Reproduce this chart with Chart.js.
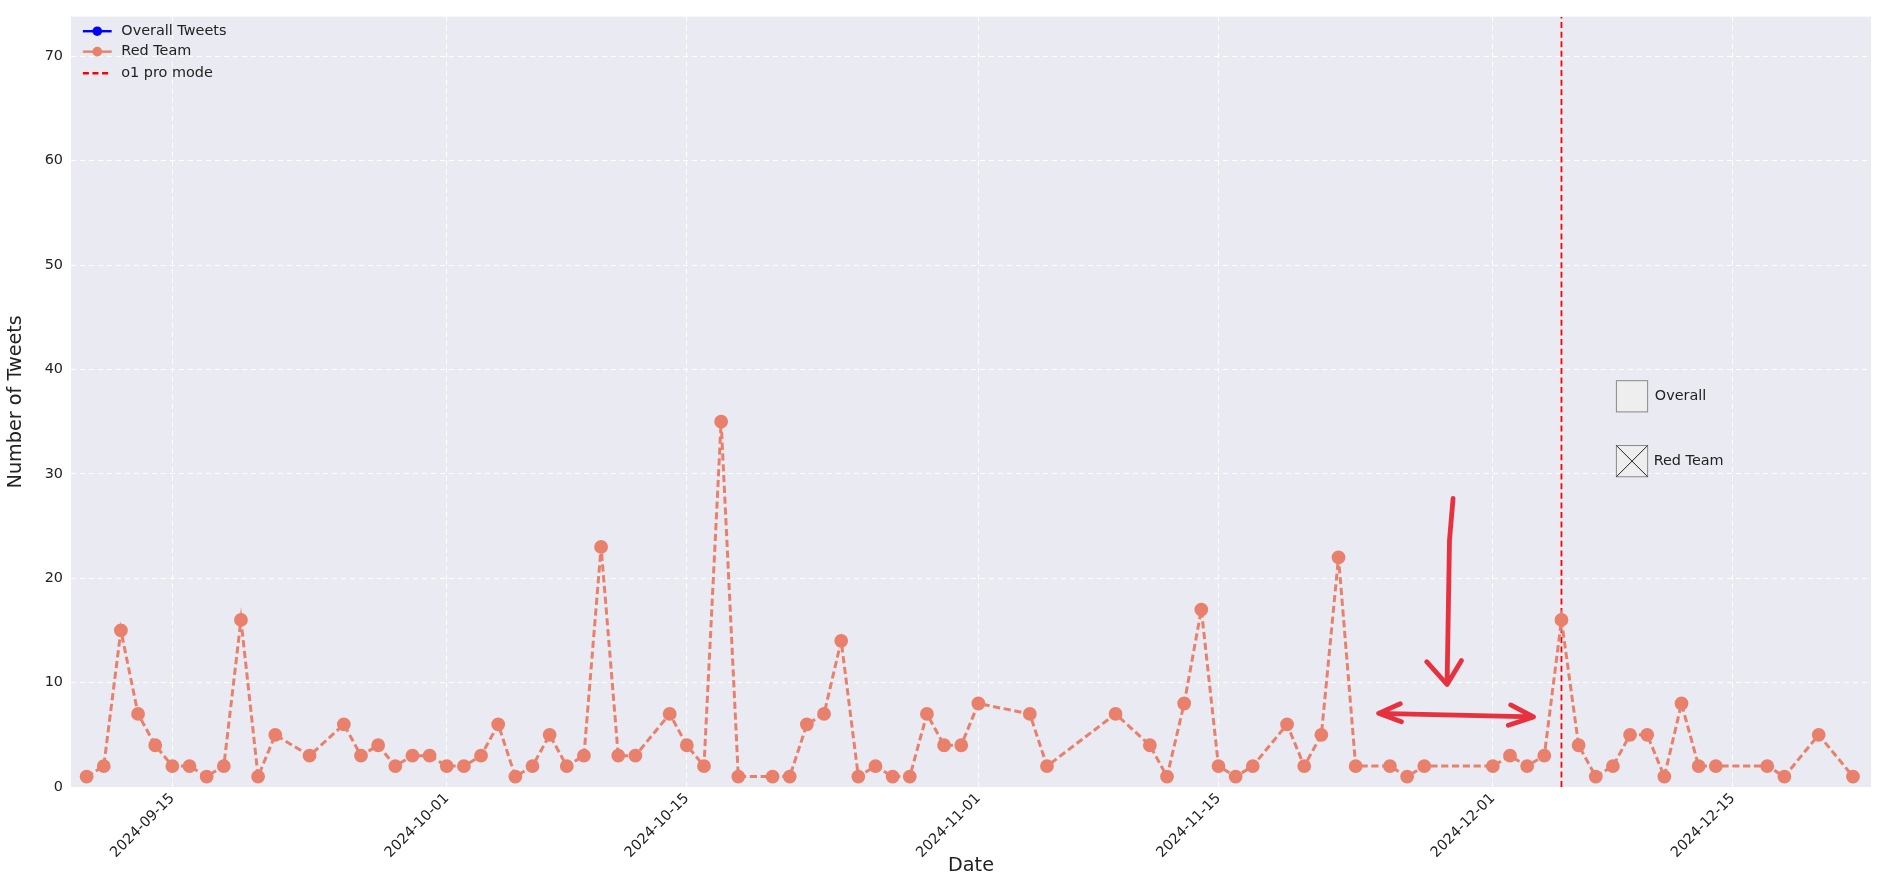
<!DOCTYPE html>
<html>
<head>
<meta charset="utf-8">
<script src="https://cdn.jsdelivr.net/npm/chart.js@4.4.0/dist/chart.umd.min.js"></script>
<style>
  html, body { margin: 0; padding: 0; background: #fff; }
  #wrap { width: 1883px; height: 882px; }
</style>
</head>
<body>
<div id="wrap"><canvas id="c" width="1883" height="882"></canvas></div>
<script>
// --- DATA ---
const startDate = "2024-09-10";
const redDays = [0,1,2,3,4,5,6,7,8,9,10,11,13,15,16,17,18,19,20,21,22,23,24,25,26,27,28,29,30,31,32,34,35,36,37,38,40,41,42,43,44,45,46,47,48,49,50,51,52,55,56,60,62,63,64,65,66,67,68,70,71,72,73,74,76,77,78,82,83,84,85,86,87,88,89,90,91,92,93,94,95,98,99,101,103];
const redValues = [1,2,15,7,4,2,2,1,2,16,1,5,3,6,3,4,2,3,3,2,2,3,6,1,2,5,2,3,23,3,3,7,4,2,35,1,1,1,6,7,14,1,2,1,1,7,4,4,8,7,2,7,4,1,8,17,2,1,2,6,2,5,22,2,2,1,2,2,3,2,3,16,4,1,2,5,5,1,8,2,2,2,1,5,1];
const overallValues = [];
const tickDates = ["2024-09-15","2024-10-01","2024-10-15","2024-11-01","2024-11-15","2024-12-01","2024-12-15"];
const o1ProDay = 86;
const yTicks = [0,10,20,30,40,50,60,70];

const S = 1883 / 1568; // reference scale
const DAY = 86400000;
const t0 = Date.parse(startDate + "T00:00:00Z");
const toDay = s => Math.round((Date.parse(s + "T00:00:00Z") - t0) / DAY);
const fmt = d => new Date(t0 + d * DAY).toISOString().slice(0, 10);
const tickDays = tickDates.map(toDay);

const red = '#e8806c';
const FONT = 'DejaVu Sans, Liberation Sans, sans-serif';

// --- overlay: legend, extra box, hand-drawn arrows ---
const overlay = {
  id: 'overlay',
  beforeDraw(chart) {
    const { ctx, chartArea: a } = chart;
    ctx.save();
    ctx.fillStyle = '#eaeaf2';
    ctx.fillRect(a.left, a.top, a.right - a.left, a.bottom - a.top);
    ctx.restore();
  },
  afterDraw(chart) {
    const ctx = chart.ctx;
    const P = v => v * S;
    ctx.save();
    ctx.font = `${P(12)}px ${FONT}`;
    ctx.textBaseline = 'middle';
    // legend
    const items = [
      { y: 26, color: '#0000ff', dash: [], dot: true, label: 'Overall Tweets' },
      { y: 43, color: red, dash: [], dot: true, label: 'Red Team' },
      { y: 61, color: '#ff0000', dash: [P(5), P(3)], dot: false, label: 'o1 pro mode' }
    ];
    items.forEach(it => {
      ctx.strokeStyle = it.color; ctx.lineWidth = P(2); ctx.setLineDash(it.dash);
      ctx.beginPath(); ctx.moveTo(P(69), P(it.y)); ctx.lineTo(P(93), P(it.y)); ctx.stroke();
      ctx.setLineDash([]);
      if (it.dot) { ctx.fillStyle = it.color; ctx.beginPath(); ctx.arc(P(81), P(it.y), P(4), 0, 2 * Math.PI); ctx.fill(); }
      ctx.fillStyle = '#222'; ctx.fillText(it.label, P(101), P(it.y));
    });
    // second legend box
    ctx.fillStyle = '#eeeeee'; ctx.strokeStyle = '#888'; ctx.lineWidth = 1;
    ctx.fillRect(P(1346), P(317), P(26), P(26)); ctx.strokeRect(P(1346), P(317), P(26), P(26));
    ctx.fillRect(P(1346), P(371), P(26), P(26)); ctx.strokeRect(P(1346), P(371), P(26), P(26));
    ctx.strokeStyle = '#222';
    ctx.beginPath();
    ctx.moveTo(P(1346), P(371)); ctx.lineTo(P(1372), P(397));
    ctx.moveTo(P(1372), P(371)); ctx.lineTo(P(1346), P(397));
    ctx.stroke();
    ctx.fillStyle = '#222';
    ctx.fillText('Overall', P(1378), P(330));
    ctx.fillText('Red Team', P(1377), P(384));
    // arrows
    ctx.strokeStyle = '#e8313f'; ctx.lineWidth = P(4); ctx.lineCap = 'round'; ctx.lineJoin = 'round';
    ctx.beginPath();
    ctx.moveTo(P(1210), P(415)); ctx.lineTo(P(1207), P(450)); ctx.lineTo(P(1205), P(570));
    ctx.moveTo(P(1188), P(551)); ctx.lineTo(P(1205), P(570)); ctx.lineTo(P(1217), P(550));
    ctx.moveTo(P(1148), P(594)); ctx.lineTo(P(1277), P(597));
    ctx.moveTo(P(1166), P(586)); ctx.lineTo(P(1148), P(594)); ctx.lineTo(P(1167), P(601));
    ctx.moveTo(P(1258), P(587)); ctx.lineTo(P(1277), P(597)); ctx.lineTo(P(1256), P(604));
    ctx.stroke();
    ctx.restore();
  }
};

new Chart(document.getElementById('c'), {
  type: 'line',
  data: {
    datasets: [
      { label: 'Overall Tweets', data: overallValues, borderColor: '#0000ff', backgroundColor: '#0000ff' },
      {
        label: 'Red Team',
        data: redDays.map((d, i) => ({ x: d, y: redValues[i] })),
        borderColor: red, backgroundColor: red, borderWidth: 2.5 * S,
        borderDash: [6 * S, 3 * S], pointRadius: 4.5 * S, pointHoverRadius: 4.5 * S, tension: 0
      },
      {
        label: 'o1 pro mode',
        data: [{ x: o1ProDay, y: 0 }, { x: o1ProDay, y: 73.8 }],
        borderColor: '#ff0000', borderWidth: 1.5 * S, borderDash: [5 * S, 3 * S], pointRadius: 0
      }
    ]
  },
  options: {
    responsive: false, animation: false,
    layout: { padding: { top: 13, right: 12, left: 0, bottom: 0 } },
    plugins: { legend: { display: false }, tooltip: { enabled: false } },
    scales: {
      x: {
        type: 'linear', min: -0.91, max: 104.05,
        afterBuildTicks: s => { s.ticks = tickDays.map(v => ({ value: v })); },
        afterFit: s => { s.height = 95; },
        ticks: { callback: v => fmt(v), maxRotation: 45, minRotation: 45, color: '#222', font: { family: FONT, size: 12 * S } },
        grid: { color: '#ffffff', borderDash: [4, 4], drawTicks: false },
        border: { display: false, dash: [5, 4] },
        title: { display: true, text: 'Date', color: '#222', font: { family: FONT, size: 16 * S }, padding: { top: 0 } }
      },
      y: {
        min: 0, max: 73.8,
        afterBuildTicks: s => { s.ticks = yTicks.map(v => ({ value: v })); },
        afterFit: s => { s.width = 71; },
        ticks: { color: '#222', font: { family: FONT, size: 12 * S }, padding: 8 },
        grid: { color: '#ffffff', drawTicks: false },
        border: { display: false, dash: [5, 4] },
        title: { display: true, text: 'Number of Tweets', color: '#222', font: { family: FONT, size: 16 * S } }
      }
    }
  },
  plugins: [overlay]
});
</script>
</body>
</html>
